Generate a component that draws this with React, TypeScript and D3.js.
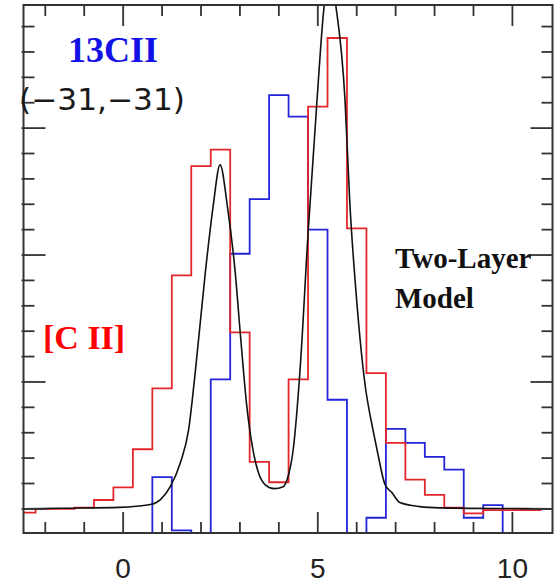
import React from "react";
import * as d3 from "d3";

const W = 554;
const H = 584;

// [C II] histogram: bin centers (km/s) and values
const ciiCenters = [-2.5, -2.0, -1.5, -1.0, -0.5, 0.0, 0.5, 1.0, 1.5, 2.0, 2.5, 3.0, 3.5, 4.0, 4.5, 5.0, 5.5, 6.0, 6.5, 7.0, 7.5, 8.0, 8.5, 9.0, 9.5, 10.0, 10.5];
const ciiValues = [-0.03, 0.0, 0.0, 0.01, 0.07, 0.17, 0.47, 0.95, 1.84, 2.7, 2.83, 1.39, 0.37, 0.21, 1.02, 3.17, 3.71, 2.21, 1.07, 0.52, 0.23, 0.11, 0.01, -0.035, -0.01, -0.01, -0.01];

// 13CII histogram
const c13Centers = [0.5, 1.0, 1.5, 2.0, 2.5, 3.0, 3.5, 4.0, 4.5, 5.0, 5.5, 6.0, 6.5, 7.0, 7.5, 8.0, 8.5, 9.0, 9.5, 10.0];
const c13Values = [-0.4, 0.25, -0.17, -0.4, 1.02, 2.01, 2.44, 3.26, 3.09, 2.2, 0.86, -0.4, -0.07, 0.63, 0.52, 0.41, 0.31, -0.07, 0.03, -0.4];

// Two-layer model curve (sampled from the figure)
const modelX = [-2.56, -1.6, -0.1, 0.7, 0.96, 1.21, 1.47, 1.68, 1.85, 2.11, 2.31, 2.49, 2.68, 2.88, 3.01, 3.18, 3.32, 3.47, 3.65, 3.88, 4.11, 4.21, 4.37, 4.55, 4.75, 4.98, 5.16, 5.32, 5.47, 5.7, 5.82, 6.0, 6.21, 6.42, 6.52, 6.73, 6.9, 7.11, 7.62, 8.14, 10.19, 11.03];
const modelY = [0.0, 0.005, 0.012, 0.034, 0.073, 0.175, 0.364, 0.62, 1.07, 1.86, 2.38, 2.71, 2.38, 1.86, 1.38, 0.8, 0.49, 0.29, 0.19, 0.16, 0.175, 0.23, 0.47, 1.12, 2.17, 3.22, 3.95, 4.2, 3.95, 3.22, 2.43, 1.64, 0.99, 0.62, 0.47, 0.19, 0.13, 0.05, 0.018, 0.008, 0.002, 0.0];

const xTickValues = [-2, -1, 0, 1, 2, 3, 4, 5, 6, 7, 8, 9, 10];
const xMajorLabels = [0, 5, 10];
const yTickValues = [0, 0.2, 0.4, 0.6, 0.8, 1, 1.2, 1.4, 1.6, 1.8, 2, 2.2, 2.4, 2.6, 2.8, 3, 3.2, 3.4, 3.6, 3.8];

const BIN = 0.5;

export default function App() {
  const left = 23.5, right = 552.5, top = 5, bottom = 533;
  const x = d3.scaleLinear().domain([-2.56, 11.03]).range([left, right]);
  const y = d3.scaleLinear().domain([-0.19, 3.97]).range([bottom, top]);

  const stepPts = (centers: number[], vals: number[]) => {
    const pts: [number, number][] = [];
    centers.forEach((c, i) => {
      pts.push([c - BIN / 2, vals[i]]);
      pts.push([c + BIN / 2, vals[i]]);
    });
    return pts;
  };
  const lineLin = d3.line<[number, number]>().x(d => x(d[0])).y(d => y(d[1]));
  const redPath = lineLin(stepPts(ciiCenters, ciiValues)) || "";
  const bluePath = lineLin(stepPts(c13Centers, c13Values)) || "";
  const modelPts: [number, number][] = modelX.map((v, i) => [v, modelY[i]]);
  const modelPath = d3.line<[number, number]>().x(d => x(d[0])).y(d => y(d[1])).curve(d3.curveMonotoneX)(modelPts) || "";

  const axisColor = "#333";
  const isMajorX = (v: number) => v % 5 === 0;
  const isMajorY = (v: number) => Math.abs(v - Math.round(v)) < 1e-6;

  return (
    <svg width={W} height={H} style={{ position: "absolute", left: 0, top: 0, background: "#fff" }}>
      <defs>
        <clipPath id="plot">
          <rect x={left} y={top} width={right - left} height={bottom - top} />
        </clipPath>
      </defs>
      <g clipPath="url(#plot)">
        <path d={bluePath} fill="none" stroke="#2424d8" strokeWidth={1.8} />
        <path d={redPath} fill="none" stroke="#e3262b" strokeWidth={1.8} />
        <path d={modelPath} fill="none" stroke="#111" strokeWidth={1.6} />
      </g>
      {xTickValues.map(v => {
        const len = isMajorX(v) ? 21 : 11;
        return (
          <g key={"xt" + v} stroke={axisColor} strokeWidth={1.8}>
            <line x1={x(v)} x2={x(v)} y1={bottom} y2={bottom - len} />
            <line x1={x(v)} x2={x(v)} y1={top} y2={top + len} />
          </g>
        );
      })}
      {yTickValues.map(v => {
        const len = isMajorY(v) ? 22 : 11;
        return (
          <g key={"yt" + v} stroke={axisColor} strokeWidth={1.8}>
            <line x1={left - 2} x2={left + len} y1={y(v)} y2={y(v)} />
            <line x1={right - len} x2={right} y1={y(v)} y2={y(v)} />
          </g>
        );
      })}
      <rect x={left} y={top} width={right - left} height={bottom - top} fill="none" stroke={axisColor} strokeWidth={2} />
      {xMajorLabels.map(v => (
        <text key={"xl" + v} x={x(v)} y={578} textAnchor="middle" fontFamily="'Liberation Sans', Arial, sans-serif" fontSize={28} fill="#222">{v}</text>
      ))}
      <text x={68} y={62} fontFamily="'Liberation Serif', 'Times New Roman', serif" fontWeight="bold" fontSize={36} fill="#1212e6">13CII</text>
      <text x={19} y={110} fontFamily="'DejaVu Sans', sans-serif" fontSize={30} fill="#1a1a1a" textLength={166} lengthAdjust="spacingAndGlyphs">(−31,−31)</text>
      <text x={395} y={268} fontFamily="'Liberation Serif', 'Times New Roman', serif" fontWeight="bold" fontSize={29} fill="#111">Two-Layer</text>
      <text x={395} y={308} fontFamily="'Liberation Serif', 'Times New Roman', serif" fontWeight="bold" fontSize={29} fill="#111">Model</text>
      <text x={43} y={349} fontFamily="'Liberation Serif', 'Times New Roman', serif" fontWeight="bold" fontSize={34} fill="#f00">[C II]</text>
    </svg>
  );
}
